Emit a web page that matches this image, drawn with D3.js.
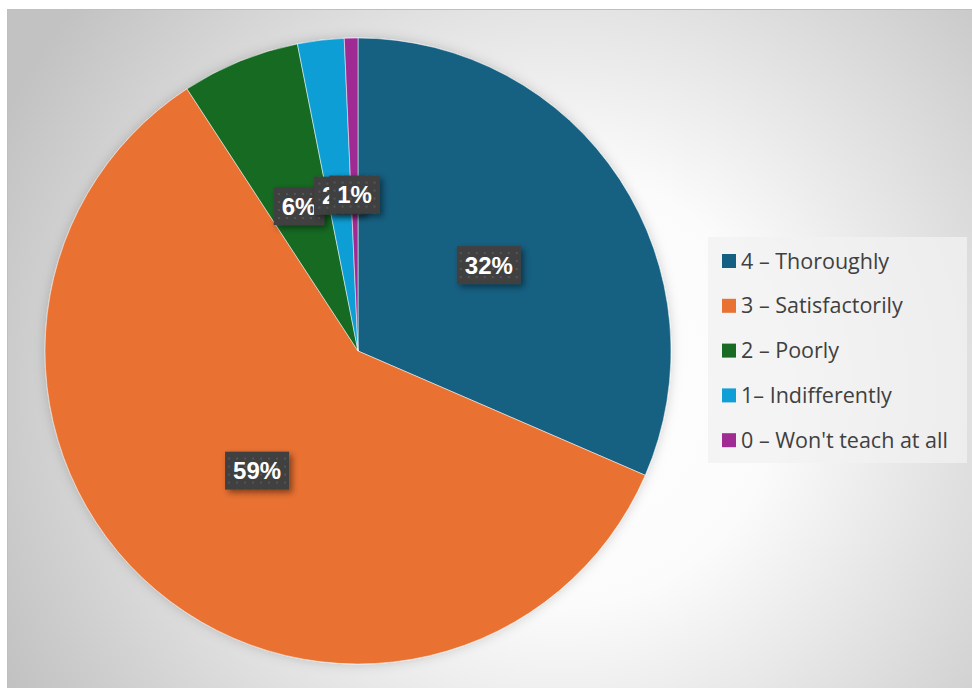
<!DOCTYPE html>
<html>
<head>
<meta charset="utf-8">
<script src="https://cdn.jsdelivr.net/npm/d3@7"></script>
<style>
  body { margin: 0; background: #fff; }
  svg { display: block; }
</style>
</head>
<body>
<div id="chart"></div>
<script>
// data
var categories = ["4 – Thoroughly", "3 – Satisfactorily", "2 – Poorly", "1– Indifferently", "0 – Won't teach at all"];
var values = [31.5, 59.3, 6.1, 2.4, 0.7];
var labels = ["32%", "59%", "6%", "2%", "1%"];
var colors = ["#156082", "#e97132", "#196b24", "#0f9ed5", "#a02b93"];

var width = 972, height = 688;
var cx = 358, cy = 351, radius = 313;

var svg = d3.select("#chart").append("svg")
    .attr("width", width)
    .attr("height", height);

var defs = svg.append("defs");

// background gradient
var bg = defs.append("radialGradient")
    .attr("id", "bg")
    .attr("gradientUnits", "userSpaceOnUse")
    .attr("cx", 560).attr("cy", 390).attr("r", 620);
bg.append("stop").attr("offset", "0%").attr("stop-color", "#ffffff");
bg.append("stop").attr("offset", "35%").attr("stop-color", "#fbfbfb");
bg.append("stop").attr("offset", "100%").attr("stop-color", "#c2c2c2");

// dotted fill for label boxes
var pat = defs.append("pattern")
    .attr("id", "dots")
    .attr("patternUnits", "userSpaceOnUse")
    .attr("width", 8).attr("height", 8);
pat.append("rect").attr("width", 8).attr("height", 8).attr("fill", "#404040");
pat.append("rect").attr("x", 3).attr("y", 3).attr("width", 2).attr("height", 2).attr("fill", "#555555");

var shadow = defs.append("filter").attr("id", "shadow")
    .attr("x", "-20%").attr("y", "-20%").attr("width", "150%").attr("height", "160%");
shadow.append("feDropShadow")
    .attr("dx", 3).attr("dy", 3).attr("stdDeviation", 3)
    .attr("flood-color", "#000").attr("flood-opacity", 0.45);

var pieShadow = defs.append("filter").attr("id", "pieShadow")
    .attr("x", "-10%").attr("y", "-10%").attr("width", "120%").attr("height", "120%");
pieShadow.append("feDropShadow")
    .attr("dx", 0).attr("dy", 0).attr("stdDeviation", 6)
    .attr("flood-color", "#000").attr("flood-opacity", 0.18);

// chart area
svg.append("rect")
    .attr("x", 7.5).attr("y", 9.5)
    .attr("width", width).attr("height", height)
    .attr("fill", "url(#bg)")
    .attr("stroke", "#bfbfbf");

var pie = d3.pie().sort(null).value(function(d) { return d; });
var arcs = pie(values);

var arc = d3.arc().innerRadius(0).outerRadius(radius);

var g = svg.append("g")
    .attr("transform", "translate(" + cx + "," + cy + ")");

g.append("g")
    .attr("filter", "url(#pieShadow)")
  .selectAll("path")
    .data(arcs)
    .enter().append("path")
    .attr("d", arc)
    .attr("fill", function(d, i) { return colors[i]; })
    .attr("stroke", "#ffffff")
    .attr("stroke-opacity", 0.5)
    .attr("stroke-width", 1);

// data labels at half radius, in slice order so later ones sit on top
arcs.forEach(function(d, i) {
    var c = arc.centroid(d);
    var lg = g.append("g").attr("transform", "translate(" + c[0] + "," + c[1] + ")");
    var box = lg.append("rect").attr("fill", "url(#dots)").attr("filter", "url(#shadow)");
    var t = lg.append("text")
        .attr("text-anchor", "middle")
        .attr("dy", "0.36em")
        .attr("fill", "#ffffff")
        .style("font-family", "'Liberation Sans', Arial, sans-serif")
        .style("font-weight", "bold")
        .style("font-size", "24px")
        .text(labels[i]);
    var w = t.node().getBBox().width + 16;
    var h = 38;
    box.attr("x", -w / 2).attr("y", -h / 2).attr("width", w).attr("height", h);
});

// legend
var legend = svg.append("g").attr("transform", "translate(708,237)");
legend.append("rect")
    .attr("width", 259).attr("height", 226)
    .attr("fill", "#f2f2f2")
    .attr("fill-opacity", 0.75);

var item = legend.selectAll(".item")
    .data(categories)
    .enter().append("g")
    .attr("class", "item")
    .attr("transform", function(d, i) { return "translate(0," + (24 + i * 44.8) + ")"; });

item.append("rect")
    .attr("x", 14).attr("y", -7)
    .attr("width", 14).attr("height", 14)
    .attr("fill", function(d, i) { return colors[i]; });

item.append("text")
    .attr("x", 33)
    .attr("dy", "0.35em")
    .attr("fill", "#404040")
    .style("font-family", "'Open Sans', sans-serif")
    .style("font-size", "21.5px")
    .text(function(d) { return d; });
</script>
</body>
</html>
